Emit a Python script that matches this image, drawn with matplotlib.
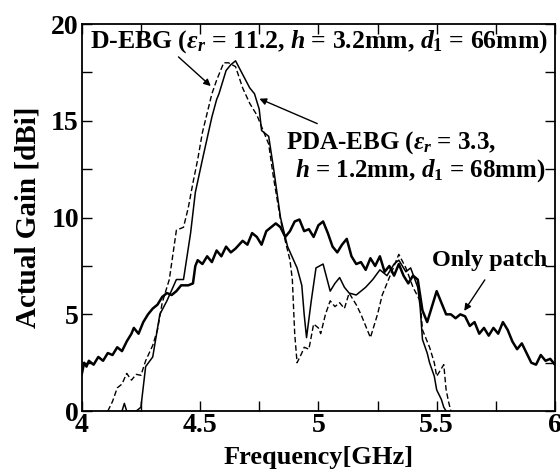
import numpy as np
import matplotlib
matplotlib.use("Agg")
import matplotlib.pyplot as plt
from matplotlib.ticker import MultipleLocator

plt.rcParams['font.family'] = 'Liberation Serif'
plt.rcParams['font.weight'] = 'bold'
plt.rcParams['mathtext.fontset'] = 'custom'
plt.rcParams['mathtext.rm'] = 'Liberation Serif:bold'
plt.rcParams['mathtext.it'] = 'Liberation Serif:italic:bold'
plt.rcParams['mathtext.bf'] = 'Liberation Serif:bold'

# Only patch (thick solid)
patch_f = [4.00, 4.01, 4.02, 4.03, 4.05, 4.07, 4.09, 4.11, 4.13, 4.15, 4.17, 4.19, 4.21, 4.22,
           4.24, 4.26, 4.28, 4.30, 4.32, 4.34, 4.36, 4.38, 4.40, 4.42, 4.45, 4.47, 4.48, 4.49,
           4.51, 4.53, 4.55, 4.57, 4.59, 4.61, 4.63, 4.65, 4.68, 4.70, 4.72, 4.74, 4.76, 4.78,
           4.80, 4.82, 4.84, 4.86, 4.88, 4.90, 4.92, 4.94, 4.96, 4.98, 5.00, 5.02, 5.04, 5.06,
           5.08, 5.10, 5.12, 5.14, 5.16, 5.18, 5.20, 5.22, 5.24, 5.26, 5.28, 5.30, 5.32, 5.34,
           5.36, 5.38, 5.40, 5.42, 5.44, 5.46, 5.48, 5.50, 5.52, 5.54, 5.56, 5.58, 5.60, 5.62,
           5.64, 5.66, 5.68, 5.70, 5.72, 5.74, 5.76, 5.78, 5.80, 5.82, 5.84, 5.86, 5.88, 5.90,
           5.92, 5.94, 5.96, 5.98, 6.00]
patch_g = [1.9, 2.5, 2.3, 2.6, 2.4, 2.8, 2.6, 3.0, 2.9, 3.3, 3.1, 3.6, 4.0, 4.3,
           4.0, 4.6, 5.0, 5.3, 5.5, 5.9, 6.1, 6.0, 6.2, 6.5, 6.5, 6.6, 7.5, 7.8,
           7.6, 8.0, 7.7, 8.3, 8.0, 8.5, 8.2, 8.4, 8.8, 8.6, 9.2, 9.0, 8.6, 9.3,
           9.5, 9.7, 9.5, 9.0, 9.3, 9.8, 9.9, 9.3, 9.4, 9.0, 9.6, 9.8, 9.2, 8.5,
           8.2, 8.6, 8.9, 8.0, 7.6, 7.7, 7.3, 7.9, 7.5, 8.0, 7.2, 7.5, 7.0, 7.6,
           7.0, 6.6, 7.0, 6.8, 5.2, 4.6, 5.4, 6.2, 5.6, 5.0, 5.0, 4.8, 5.0, 4.9,
           4.4, 4.6, 4.0, 4.3, 3.9, 4.3, 4.0, 4.6, 4.2, 3.6, 3.2, 3.5, 3.0, 2.5,
           2.4, 2.9, 2.6, 2.7, 2.4]

# D-EBG (dashed)
debg_f = [4.11, 4.13, 4.15, 4.17, 4.19, 4.21, 4.23, 4.25, 4.27, 4.30, 4.32, 4.34, 4.37, 4.40,
          4.43, 4.45, 4.47, 4.49, 4.51, 4.53, 4.55, 4.57, 4.60, 4.62, 4.65, 4.68, 4.71, 4.74,
          4.77, 4.79, 4.81, 4.84, 4.86, 4.88, 4.89, 4.90, 4.91, 4.93, 4.94, 4.96, 4.98, 5.00,
          5.01, 5.03, 5.05, 5.07, 5.09, 5.11, 5.13, 5.16, 5.18, 5.20, 5.22, 5.25, 5.27, 5.29,
          5.31, 5.34, 5.37, 5.40, 5.43, 5.44, 5.46, 5.47, 5.49, 5.50, 5.52, 5.53, 5.54, 5.55,
          5.56]
debg_g = [0.0, 0.5, 1.2, 1.4, 1.95, 1.6, 1.9, 1.85, 2.6, 3.4, 4.2, 5.6, 6.8, 9.35,
          9.5, 10.5, 11.8, 13.0, 14.4, 15.4, 16.4, 17.1, 18.0, 18.0, 17.8, 16.7, 15.9, 15.3,
          14.4, 13.8, 12.1, 9.9, 8.8, 7.8, 6.8, 4.0, 2.5, 3.0, 3.3, 3.2, 4.5, 4.3,
          4.0, 5.0, 5.7, 5.4, 5.6, 5.3, 6.1, 5.5, 5.0, 4.4, 3.8, 5.0, 6.0, 6.6,
          7.2, 8.1, 7.4, 6.4, 5.7, 4.2, 3.6, 3.3, 2.5, 1.8, 2.2, 2.4, 1.1, 0.5,
          0.0]

# PDA-EBG (thin solid)
pda_f = [4.17, 4.18, 4.19, 4.21, 4.23, 4.25, 4.27, 4.30, 4.33, 4.36, 4.40, 4.43, 4.46, 4.48,
         4.51, 4.55, 4.57, 4.58, 4.61, 4.63, 4.65, 4.68, 4.71, 4.73, 4.75, 4.76, 4.79, 4.81,
         4.84, 4.87, 4.91, 4.93, 4.94, 4.95, 4.97, 4.99, 5.02, 5.05, 5.07, 5.09, 5.11, 5.13,
         5.16, 5.20, 5.23, 5.26, 5.29, 5.32, 5.34, 5.37, 5.39, 5.42, 5.43, 5.44, 5.46, 5.47,
         5.49, 5.50, 5.52, 5.53, 5.54]
pda_g = [0.0, 0.4, 0.0, 0.0, 0.0, 0.2, 2.3, 2.8, 5.0, 5.7, 6.8, 6.8, 9.2, 11.3,
         13.0, 15.2, 16.1, 16.4, 17.6, 17.9, 18.1, 17.4, 16.7, 16.4, 15.6, 14.5, 14.2, 12.6,
         10.0, 8.5, 7.4, 6.5, 5.0, 3.8, 5.7, 7.4, 7.6, 6.2, 6.6, 6.9, 6.4, 6.1,
         6.0, 6.4, 6.8, 7.3, 7.0, 7.6, 7.8, 7.2, 7.4, 6.4, 5.4, 3.7, 3.0, 2.5,
         1.8, 1.1, 0.6, 0.2, 0.0]

fig = plt.figure(figsize=(5.6, 4.72), dpi=100)
ax = fig.add_axes([0.146, 0.129, 0.845, 0.82])

ax.plot(patch_f, patch_g, color='black', lw=1.8)
ax.plot(debg_f, debg_g, color='black', lw=1.0, ls=(0, (4, 2)))
ax.plot(pda_f, pda_g, color='black', lw=1.1)

ax.set_xlim(4, 6)
ax.set_ylim(0, 20)
ax.xaxis.set_minor_locator(MultipleLocator(0.25))
ax.yaxis.set_major_locator(MultipleLocator(5))
ax.yaxis.set_minor_locator(MultipleLocator(2.5))
ax.set_xticks([4, 4.5, 5, 5.5, 6])
ax.set_xticklabels(['4', '4.5', '5', '5.5', '6'])
ax.tick_params(which='both', direction='in', top=True, right=True, width=1.0)
ax.tick_params(which='major', length=7, labelsize=20)
ax.tick_params(axis='x', pad=1)
ax.tick_params(axis='y', pad=2)
ax.tick_params(which='minor', length=7)
for s in ax.spines.values():
    s.set_linewidth(1.3)

ax.set_xlabel('Frequency[GHz]', fontsize=19, fontweight='bold', labelpad=6)
ax.set_ylabel('Actual Gain [dBi]', fontsize=21, fontweight='bold', labelpad=7)

ax.text(4.035, 19.1, r'D-EBG ($ε_r$ = 11.2, $h$ = 3.2mm, $d_1$ = 66mm)',
        fontsize=18.5, fontweight='bold', va='center', ha='left')
ax.annotate('', xy=(4.554, 16.7), xytext=(4.40, 18.4),
            arrowprops=dict(arrowstyle='-|>', color='black', lw=1.0, mutation_scale=10))
ax.text(4.865, 13.9, r'PDA-EBG ($ε_r$ = 3.3,', fontsize=18, fontweight='bold',
        va='center', ha='left')
ax.text(5.96, 12.45, r'$h$ = 1.2mm, $d_1$ = 68mm)', fontsize=18, fontweight='bold',
        va='center', ha='right')
ax.annotate('', xy=(4.74, 16.2), xytext=(5.006, 14.8),
            arrowprops=dict(arrowstyle='-|>', color='black', lw=1.0, mutation_scale=10))
ax.text(5.48, 7.8, 'Only patch', fontsize=17.5, fontweight='bold', va='center', ha='left')
ax.annotate('', xy=(5.61, 5.06), xytext=(5.71, 6.9),
            arrowprops=dict(arrowstyle='-|>', color='black', lw=1.0, mutation_scale=10))

fig.savefig('out.png', dpi=100)
